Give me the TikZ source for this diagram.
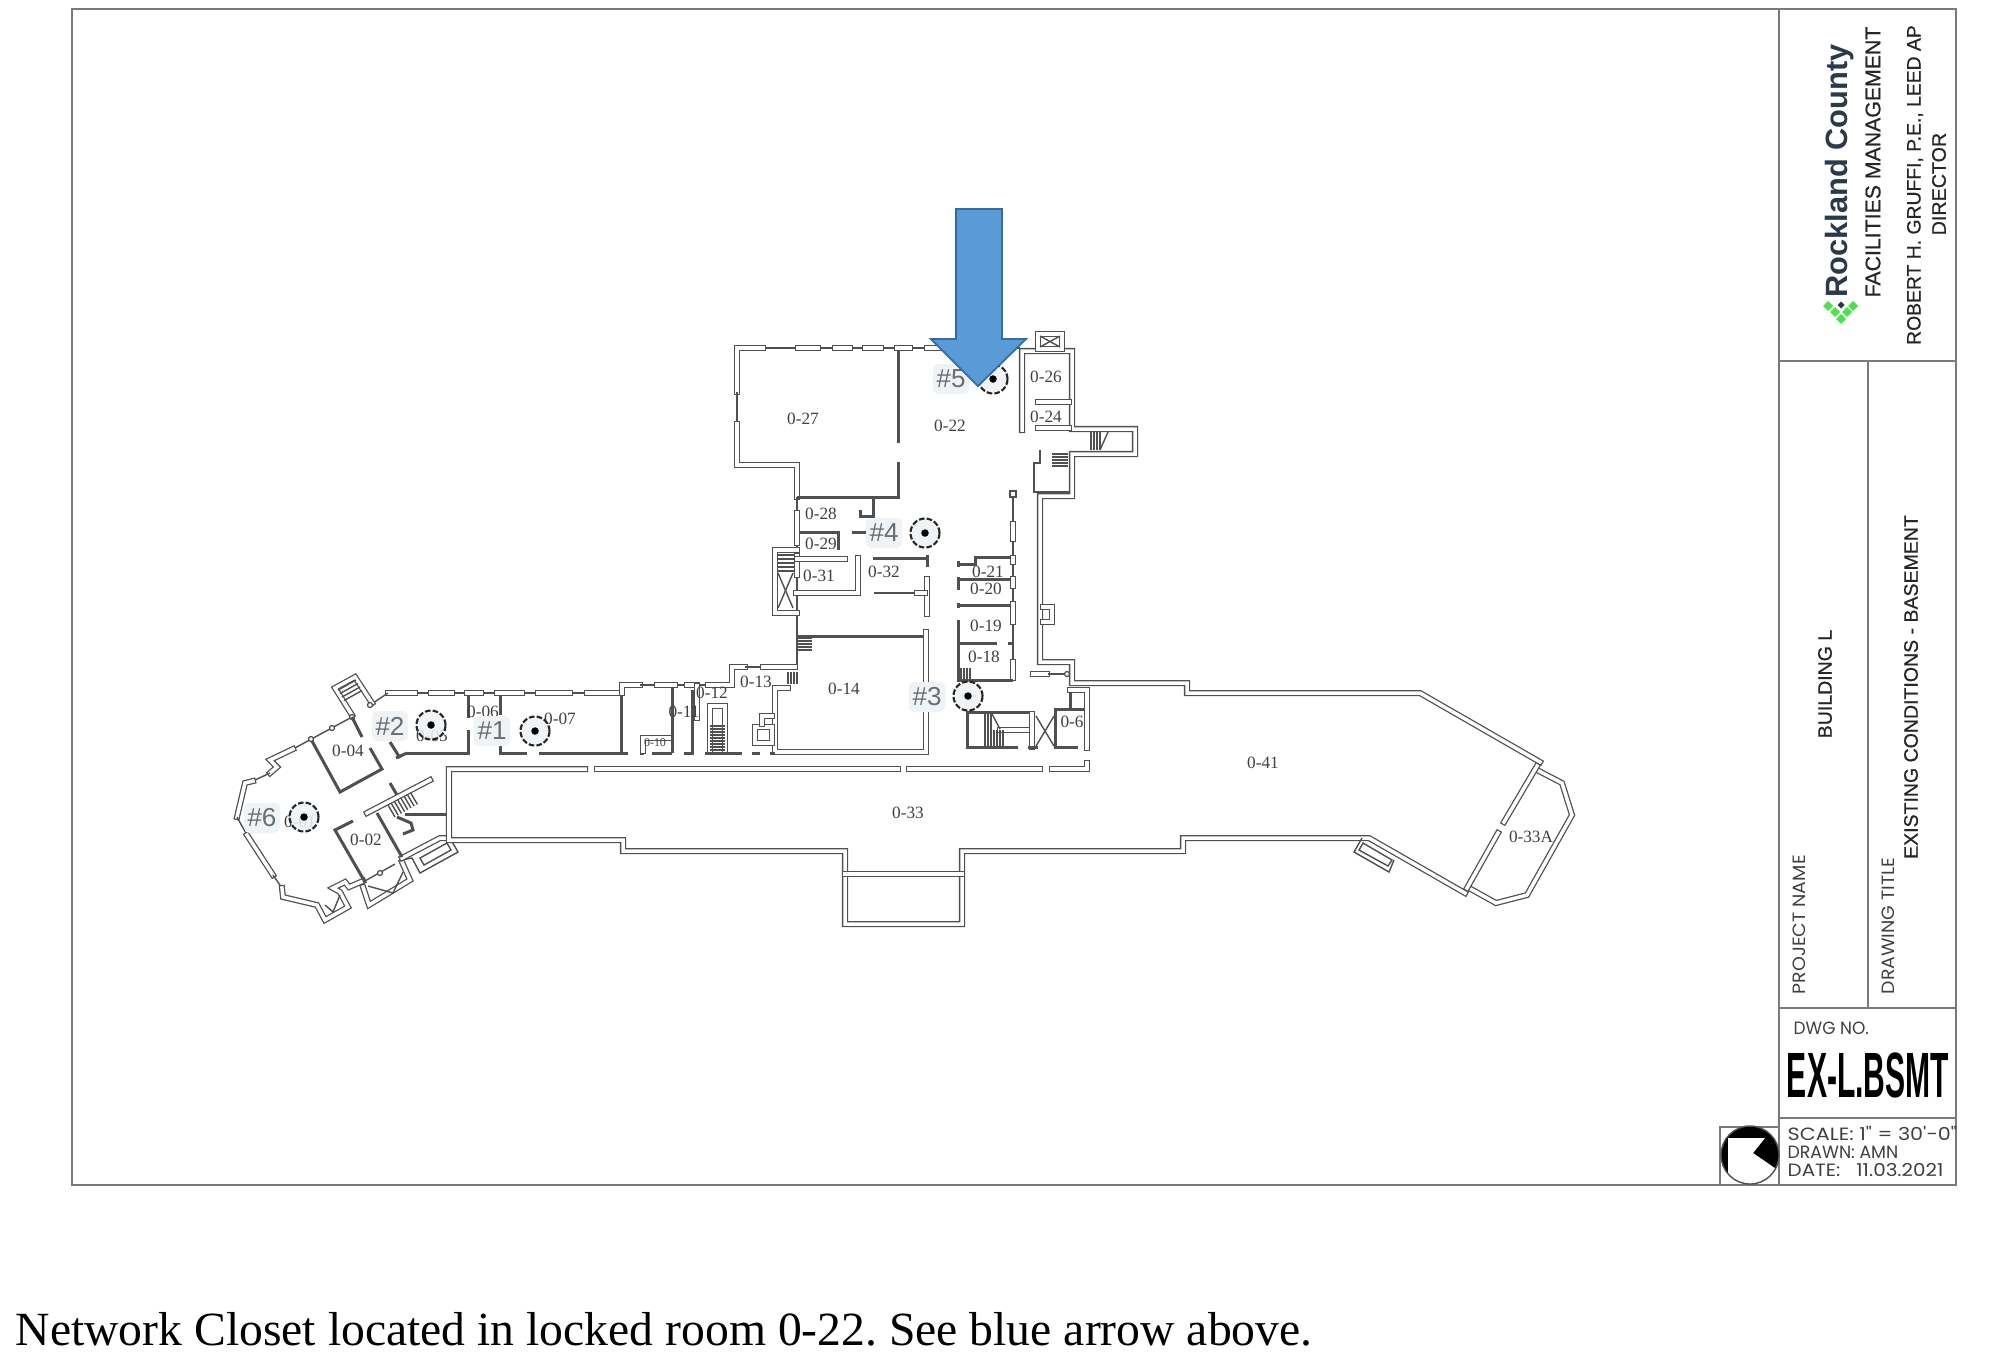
\documentclass[tikz,border=0pt]{standalone}
\usepackage{fontspec}
\setmainfont{Liberation Serif}
\setsansfont{Liberation Sans}
\newfontfamily\sketchfont{Poppins}
\newfontfamily\blockfont[FakeBold=.6]{Liberation Sans}
\definecolor{wallcol}{HTML}{505050}
\definecolor{framecol}{HTML}{7A7A7A}
\definecolor{tagfill}{HTML}{EFF3F5}
\definecolor{taggray}{HTML}{6A6E72}
\definecolor{arrowblue}{HTML}{5B9BD5}
\definecolor{arrowline}{HTML}{2F6DA8}
\definecolor{logogreen}{HTML}{4CE24C}
\definecolor{logonavy}{HTML}{2B3A4A}

\begin{document}
\begin{tikzpicture}[x=0.01cm, y=-0.01cm,
    wall/.style={draw=wallcol, line width=.36pt, double=white, double distance=1pt, line cap=rect, line join=miter},
    thinwall/.style={draw=wallcol, line width=.4pt},
    solidwall/.style={draw=wallcol, line width=.85pt},
    frameline/.style={draw=framecol, line width=.5pt},
    room/.style={font=\fontsize{4.9}{5}\selectfont, text=black!75, inner sep=0pt},
    tag/.style={fill=tagfill, rounded corners=1.5pt, minimum width=.36cm, minimum height=.3cm, inner sep=0pt, text=taggray, font=\sffamily\fontsize{7.4}{8}\selectfont},
    spot/.style={draw=black!85, circle, fill=tagfill, fill opacity=.88, dashed, dash pattern=on 1.6pt off .6pt, line width=.6pt, minimum size=.29cm, inner sep=0pt},
    spotdot/.style={fill=black, circle, minimum size=.075cm, inner sep=0pt},
    post/.style={draw=wallcol, fill=white, circle, line width=.36pt, minimum size=.05cm, inner sep=0pt},
    blockhead/.style={font=\blockfont\fontsize{5.55}{6}\selectfont, text=black!85, inner sep=0pt, rotate=90},
    sketch/.style={font=\sketchfont\fontsize{4.6}{5}\selectfont, text=black!75, inner sep=0pt, anchor=west}]
    \useasboundingbox (0, 0) rectangle (2000, 1365);
    \fill [white] (0, 0) rectangle (2000, 1365);

    % sheet and title block
    \draw [frameline] (72, 9) rectangle (1956, 1185);
    \draw [frameline] (1779, 9) -- (1779, 1185);
    \draw [frameline] (1779, 361) -- (1956, 361);
    \draw [frameline] (1868, 361) -- (1868, 1008);
    \draw [frameline] (1779, 1008) -- (1956, 1008);
    \draw [frameline] (1779, 1118) -- (1956, 1118);
    \draw [frameline] (1720, 1127) rectangle (1779, 1185);

    % north mark
    \fill [black] (1750, 1155) circle (29);
    \begin{scope}
      \clip (1750, 1155) circle (29);
      \fill [white] (1728, 1138) -- (1765, 1138) -- (1753, 1153) -- (1785, 1175) -- (1785, 1190) -- (1728, 1190) -- cycle;
    \end{scope}
    \draw [thinwall] (1750, 1155) circle (29);

    % logo
    \foreach \a/\b in {1828/306, 1853/306, 1835/312, 1847/312, 1841/319}
      \fill [logogreen] (\a - 5, \b) -- (\a, \b - 5) -- (\a + 5, \b) -- (\a, \b + 5) -- cycle;
    \fill [logonavy] (1841 - 3.5, 305) -- (1841, 305 - 3.5) -- (1841 + 3.5, 305) -- (1841, 305 + 3.5) -- cycle;
    \node [rotate=90, inner sep=0pt, text=logonavy, font=\sffamily\bfseries\fontsize{8.75}{9}\selectfont] (county) at (1840, 171) {Rockland County};
    \node [blockhead, font=\blockfont\fontsize{6.05}{7}\selectfont] (facilities) at (1873, 162) {FACILITIES MANAGEMENT};
    \node [blockhead, font=\blockfont\fontsize{5.5}{6}\selectfont] (director) at (1915, 185) {ROBERT H. GRUFFI, P.E., LEED AP};
    \node [blockhead, font=\blockfont\fontsize{5.6}{6}\selectfont] (directortwo) at (1939, 184) {DIRECTOR};
    \node [blockhead] (building) at (1825, 684) {BUILDING L};
    \node [blockhead] (drawing) at (1911, 687) {EXISTING CONDITIONS - BASEMENT};
    \node [sketch, rotate=90] (project) at (1799, 995) {\scalebox{1.17}[1.1]{PROJECT NAME}};
    \node [sketch, rotate=90] (title) at (1888, 995) {\scalebox{1.17}[1.1]{DRAWING TITLE}};
    \node [sketch] (dwgno) at (1793, 1028) {\scalebox{1.05}[1.1]{DWG NO.}};
    \node [inner sep=0pt, font=\sffamily\bfseries\fontsize{18.2}{19}\selectfont] (dwg) at (1868, 1075) {\scalebox{.47}[1]{EX-L.BSMT}};
    \node [sketch] (scale) at (1787, 1133) {\scalebox{1.28}[1.1]{SCALE: 1" = 30'-0"}};
    \node [sketch] (drawn) at (1787, 1152) {\scalebox{1.07}[1.1]{DRAWN: AMN}};
    \node [sketch] (date) at (1787, 1170) {\scalebox{1.23}[1.1]{DATE:\ \ \ 11.03.2021}};

    % upper block, north and west faces
    \draw [thinwall] (737, 348) -- (1020, 348);
    \foreach \a/\b in {798/818, 835/850, 865/881, 897/910, 927/940}
      \draw [wall] (\a, 348) -- (\b, 348);
    \draw [wall] (763, 348) -- (737, 348) -- (737, 392);
    \draw [thinwall] (737, 392) -- (737, 424);
    \draw [wall] (737, 424) -- (737, 465) -- (797, 465) -- (797, 497);
    \draw [solidwall] (797, 497) -- (898, 497) -- (898, 462);
    \draw [solidwall] (898, 350) -- (898, 443);
    \draw [thinwall] (797, 497) -- (797, 665);
    \draw [wall] (797, 513) -- (797, 543);
    \draw [wall] (797, 550) -- (775, 550) -- (775, 613) -- (797, 613);
    \draw [wall] (797, 556) -- (797, 575);
    \draw [thinwall] (778, 573) -- (793, 608);
    \draw [thinwall] (793, 573) -- (778, 608);
    \foreach \y in {555, 559, ..., 573}
      \draw [thinwall] (778, \y) -- (795, \y);

    % upper block, rooms 0-28 to 0-32
    \draw [solidwall] (800, 532) -- (840, 532);
    \draw [solidwall] (852, 532) -- (866, 532);
    \draw [solidwall] (838, 533) -- (838, 550);
    \draw [solidwall] (873, 498) -- (873, 516) -- (860, 516) -- (860, 510);
    \draw [wall] (797, 559) -- (845, 559);
    \draw [wall] (858, 558) -- (858, 593) -- (796, 593);
    \draw [solidwall] (873, 558) -- (873, 558) -- (927, 558);
    \draw [solidwall] (927, 555) -- (927, 567);
    \draw [thinwall] (874, 593) -- (917, 593);
    \draw [wall] (927, 579) -- (927, 614);
    \draw [wall] (917, 593) -- (925, 593);

    % room 0-14
    \draw [solidwall] (797, 636) -- (923, 636);
    \foreach \y in {638, 641, ..., 650}
      \draw [thinwall] (797, \y) -- (812, \y);
    \draw [wall] (926, 632) -- (926, 752) -- (775, 752) -- (775, 688) -- (788, 688);
    \foreach \a in {788, 791, ..., 799}
      \draw [solidwall, line width=.4pt] (\a, 672) -- (\a, 684);
    \draw [wall] (755, 727) rectangle (772, 743);
    \draw [wall] (772, 716) -- (762, 716) -- (762, 724);
    \draw [solidwall] (752, 753) -- (760, 753);
    \draw [solidwall] (770, 753) -- (775, 753);

    % east rooms 0-18 to 0-21
    \draw [thinwall] (1013, 496) -- (1013, 680);
    \draw [thinwall] (1010, 491) rectangle (1016, 497);
    \foreach \a/\b in {524/539, 558/562, 579/586, 604/622, 662/678}
      \draw [wall] (1013, \a) -- (1013, \b);
    \draw [solidwall] (1010, 557) -- (975, 557) -- (975, 564) -- (958, 564);
    \draw [solidwall] (958, 561) -- (958, 567);
    \draw [solidwall] (958, 579) -- (1010, 579);
    \draw [solidwall] (958, 577) -- (958, 590);
    \draw [solidwall] (958, 605) -- (1010, 605);
    \draw [solidwall] (958, 603) -- (958, 608);
    \draw [solidwall] (958, 620) -- (958, 680) -- (1013, 680);
    \draw [solidwall] (958, 643) -- (997, 643);
    \draw [solidwall] (1008, 643) -- (1012, 643);
    \foreach \a in {961, 964, 967, 970}
      \draw [thinwall] (\a, 668) -- (\a, 679);

    % east face of upper block
    \draw [wall] (1022, 430) -- (1022, 351) -- (1072, 351) -- (1072, 429) -- (1135, 429) -- (1135, 454) -- (1072, 454) -- (1072, 496) -- (1040, 496) -- (1040, 662) -- (1072, 662) -- (1072, 683) -- (1187, 683) -- (1187, 693) -- (1420, 693) -- (1540, 762);
    \draw [wall] (1038, 334) rectangle (1062, 349);
    \draw [thinwall] (1040, 336) -- (1060, 347);
    \draw [thinwall] (1060, 336) -- (1040, 347);
    \draw [wall] (1038, 402) -- (1069, 402);
    \draw [wall] (1038, 428) -- (1069, 428);
    \foreach \a in {1091, 1094, 1097, 1100}
      \draw [thinwall] (\a, 432) -- (\a, 450);
    \draw [thinwall] (1108, 432) -- (1100, 450);
    \draw [solidwall, line width=.5pt] (1040, 450) -- (1040, 463) -- (1034, 463) -- (1034, 492) -- (1069, 492);
    \foreach \y in {454, 457, 460, 463, 466}
      \draw [thinwall] (1052, \y) -- (1068, \y);
    \draw [wall] (1043, 607) -- (1052, 607) -- (1052, 622) -- (1043, 622);
    \draw [wall] (1033, 674) -- (1047, 674);
    \draw [thinwall] (1048, 674) -- (1068, 674);
    \node [post] (doorb) at (1067, 674) {};

    % stair and lift by room 0-6
    \draw [solidwall] (1030, 712) -- (967, 712) -- (967, 747) -- (1018, 747);
    \draw [wall] (1000, 730) -- (1030, 730);
    \foreach \a in {985, 988, ..., 1003}
      \draw [thinwall] (\a, 730) -- (\a, 746);
    \foreach \a in {985, 988, 991}
      \draw [thinwall] (\a, 713) -- (\a, 730);
    \draw [thinwall] (992, 714) -- (1000, 729);
    \draw [wall] (1032, 714) -- (1032, 747);
    \draw [thinwall] (1036, 716) -- (1054, 746);
    \draw [thinwall] (1054, 716) -- (1036, 746);
    \draw [solidwall] (1028, 747) -- (1038, 747);
    \draw [solidwall] (1087, 709) -- (1055, 709) -- (1055, 747) -- (1078, 747);
    \draw [solidwall] (1070, 690) -- (1070, 708);
    \draw [wall] (1070, 690) -- (1087, 690) -- (1087, 748);

    % west wing, north face and rooms
    \draw [thinwall] (388, 693) -- (622, 693);
    \foreach \a/\b in {388/415, 431/452, 467/481, 497/522, 538/570, 587/622}
      \draw [wall] (\a, 693) -- (\b, 693);
    \draw [wall] (622, 693) -- (622, 685) -- (640, 685);
    \draw [thinwall] (640, 685) -- (708, 685);
    \foreach \a/\b in {657/675, 687/697}
      \draw [wall] (\a, 685) -- (\b, 685);
    \draw [wall] (708, 685) -- (732, 685) -- (732, 667) -- (745, 667);
    \draw [thinwall] (745, 667) -- (763, 667);
    \draw [wall] (763, 667) -- (795, 667);
    \draw [solidwall] (621, 695) -- (621, 753);
    \draw [solidwall] (407, 753) -- (468, 753) -- (468, 730);
    \draw [solidwall] (468, 695) -- (468, 718);
    \draw [solidwall] (500, 695) -- (500, 715);
    \draw [solidwall] (500, 745) -- (500, 753) -- (527, 753);
    \draw [solidwall] (539, 753) -- (628, 753);
    \draw [solidwall] (640, 753) -- (644, 753);
    \draw [wall] (643, 751) -- (643, 738) -- (670, 738);
    \draw [solidwall] (652, 753) -- (672, 753);
    \draw [solidwall] (672, 688) -- (672, 753);
    \draw [solidwall] (692, 690) -- (692, 753) -- (684, 753);
    \draw [wall] (697, 686) -- (697, 718);
    \draw [wall] (710, 752) -- (710, 706) -- (725, 706) -- (725, 752);
    \foreach \y in {726, 729, ..., 750}
      \draw [thinwall] (710, \y) -- (725, \y);
    \draw [solidwall] (705, 753) -- (742, 753);

    % west end
    \draw [thinwall] (388, 693) -- (370, 705);
    \draw [wall] (372, 703) -- (355, 677) -- (335, 688) -- (352, 715);
    \foreach \i in {0, 1, 2, 3}
      \draw [thinwall] (338 + 2*\i, 690 + 3.5*\i) -- (356 + 2*\i, 680 + 3.5*\i);
    \draw [thinwall] (352, 717) -- (293, 749);
    \draw [wall] (293, 749) -- (270, 760) -- (277, 767) -- (270, 773);
    \draw [thinwall] (270, 773) -- (253, 781);
    \draw [wall] (253, 781) -- (245, 783) -- (237, 817);
    \draw [thinwall] (237, 817) -- (247, 835);
    \draw [wall] (247, 835) -- (273, 875);
    \draw [thinwall] (273, 875) -- (282, 888);
    \draw [wall] (282, 888) -- (283, 897) -- (317, 905) -- (325, 920) -- (348, 907) -- (340, 892) -- (333, 888) -- (345, 882) -- (349, 887) -- (363, 881);
    \draw [thinwall] (325, 905) -- (333, 912) -- (340, 895);
    \draw [wall] (363, 887) -- (369, 905) -- (410, 880) -- (402, 862);
    \draw [thinwall] (368, 886) -- (393, 893) -- (403, 872);
    \draw [thinwall] (363, 882) -- (395, 864);
    \draw [thinwall] (402, 860) -- (412, 858) -- (420, 873) -- (458, 852) -- (450, 838);
    \draw [wall] (402, 858) -- (440, 838) -- (449, 838);
    \draw [thinwall] (420, 858) -- (447, 843) -- (451, 850) -- (424, 865) -- cycle;
    \node [post] (posta) at (370, 705) {};
    \node [post] (postb) at (352, 717) {};
    \node [post] (postc) at (332, 728) {};
    \node [post] (postd) at (311, 739) {};
    \node [post] (poste) at (380, 873) {};

    % rooms 0-02 and 0-04, west stair
    \draw [solidwall] (312, 741) -- (340, 792) -- (382, 769) -- (370, 748);
    \draw [solidwall] (352, 717) -- (362, 737);
    \draw [solidwall] (390, 742) -- (400, 758);
    \draw [solidwall] (396, 758) -- (407, 753);
    \draw [solidwall] (390, 783) -- (397, 795);
    \draw [solidwall] (353, 821) -- (335, 830) -- (365, 882);
    \draw [wall] (367, 813) -- (430, 780);
    \draw [solidwall] (377, 813) -- (402, 857);
    \foreach \i in {0, 1, ..., 7} {
      \draw [thinwall] (388 + 3.2*\i, 805 - 1.8*\i) -- (395 + 3.2*\i, 817 - 1.8*\i);
    }
    \draw [solidwall] (405, 814) -- (448, 814);
    \draw [solidwall] (397, 817) -- (411, 823) -- (413, 830) -- (403, 834);

    % long corridor
    \draw [wall] (585, 769) -- (449, 769) -- (449, 840) -- (623, 840) -- (623, 851) -- (845, 851) -- (845, 924) -- (962, 924) -- (962, 851) -- (1183, 851) -- (1183, 838) -- (1369, 838) -- (1465, 893);
    \draw [wall] (845, 874) -- (962, 874);
    \draw [wall] (597, 769) -- (898, 769);
    \draw [wall] (909, 769) -- (1040, 769);
    \draw [wall] (1052, 769) -- (1087, 769) -- (1087, 763);
    \draw [thinwall] (1362, 838) -- (1354, 852) -- (1389, 872) -- (1394, 860);
    \draw [thinwall] (1363, 843) -- (1392, 860) -- (1388, 866) -- (1359, 850) -- cycle;
    \draw [wall] (1537, 770) -- (1562, 783) -- (1572, 815) -- (1527, 895) -- (1496, 903) -- (1469, 888);
    \draw [wall] (1537, 766) -- (1504, 822);
    \draw [wall] (1498, 833) -- (1467, 888);

    % room numbers
    \node [room] (r27) at (803, 419) {0-27};
    \node [room] (r22) at (950, 426) {0-22};
    \node [room] (r26) at (1046, 377) {0-26};
    \node [room] (r24) at (1046, 417) {0-24};
    \node [room] (r28) at (821, 514) {0-28};
    \node [room] (r29) at (821, 544) {0-29};
    \node [room] (r31) at (819, 576) {0-31};
    \node [room] (r32) at (884, 572) {0-32};
    \node [room] (r21) at (988, 572) {0-21};
    \node [room] (r20) at (986, 589) {0-20};
    \node [room] (r19) at (986, 626) {0-19};
    \node [room] (r18) at (984, 657) {0-18};
    \node [room] (r14) at (844, 689) {0-14};
    \node [room] (r13) at (756, 682) {0-13};
    \node [room] (r12) at (712, 693) {0-12};
    \node [room] (r11) at (684, 712) {0-11};
    \node [room, font=\fontsize{3.4}{4}\selectfont] (r10) at (655, 743) {0-10};
    \node [room] (r6) at (1072, 722) {0-6};
    \node [room] (r33) at (908, 813) {0-33};
    \node [room] (r41) at (1263, 763) {0-41};
    \node [room] (r33a) at (1531, 837) {0-33A};
    \node [room] (r07) at (560, 719) {0-07};
    \node [room] (r06) at (483, 712) {0-06};
    \node [room] (r05) at (432, 736) {0-05};
    \node [room] (r04) at (348, 751) {0-04};
    \node [room] (r02) at (366, 840) {0-02};
    \node [room] (r01) at (300, 822) {0-01};

    % closet spots
    \node [spot] (s1) at (535, 731) {};
    \node [spot] (s2) at (431, 725) {};
    \node [spot] (s3) at (968, 696) {};
    \node [spot] (s4) at (925, 533) {};
    \node [spot] (s5) at (993, 379) {};
    \node [spot] (s6) at (304, 817) {};
    \foreach \s in {s1, s2, s3, s4, s5, s6}
      \node [spotdot] (dot\s) at (\s) {};
    \node [tag] (t1) at (492, 731) {\#1};
    \node [tag] (t2) at (390, 726) {\#2};
    \node [tag] (t3) at (927, 697) {\#3};
    \node [tag] (t4) at (884, 533) {\#4};
    \node [tag] (t5) at (951, 379) {\#5};
    \node [tag] (t6) at (262, 818) {\#6};

    % blue arrow
    \draw [fill=arrowblue, draw=arrowline, line width=.5pt, line join=miter] (956, 209) -- (1002, 209) -- (1002, 339) -- (1026, 339) -- (978, 386) -- (931, 339) -- (956, 339) -- cycle;

    % caption
    \node [anchor=west, inner sep=0pt, font=\fontsize{13.55}{15}\selectfont] (caption) at (15, 1329) {\frenchspacing Network Closet located in locked room 0-22. See blue arrow above.};
\end{tikzpicture}
\end{document}
